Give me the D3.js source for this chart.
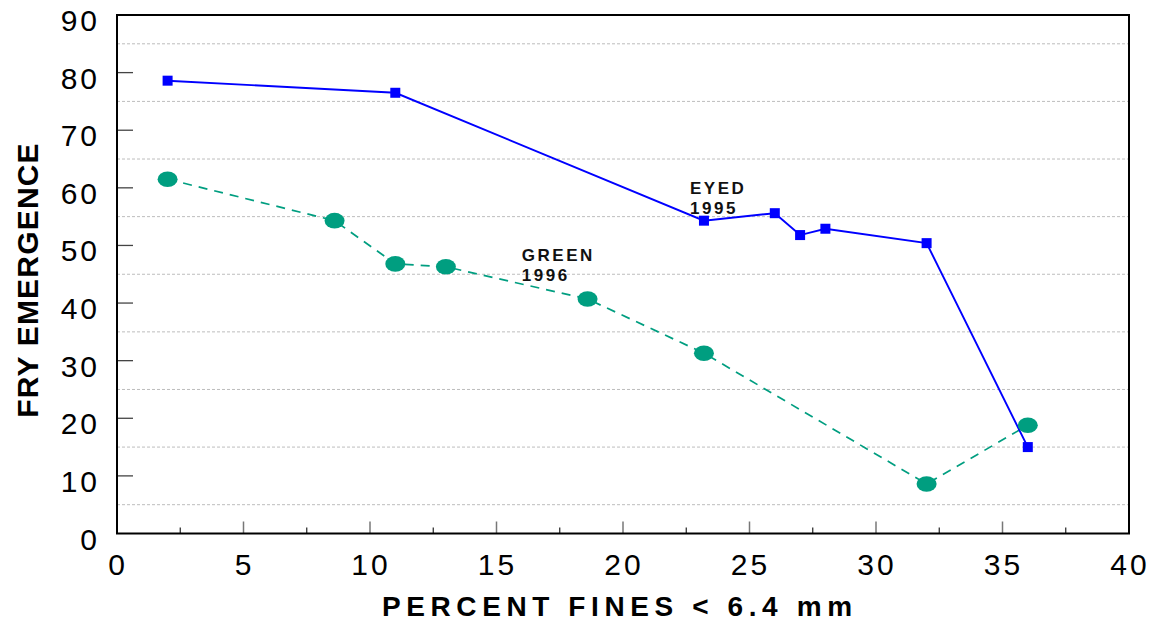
<!DOCTYPE html>
<html>
<head>
<meta charset="utf-8">
<script src="https://cdn.jsdelivr.net/npm/d3@7"></script>
<style>
  body { margin: 0; background: #fff; }
  svg { display: block; font-family: 'Liberation Sans', Arial, sans-serif; }
</style>
</head>
<body>
<svg id="chart" width="1154" height="624"></svg>
<script>
// eyed eggs, 1995
const eyedFines = [2, 11, 23.2, 26, 27, 28, 32, 36];
const eyedEmergence = [78.6, 76.5, 54.3, 55.6, 51.8, 52.9, 50.4, 15];
// green eggs, 1996
const greenFines = [2, 8.6, 11, 13, 18.6, 23.2, 32, 36];
const greenEmergence = [61.5, 54.3, 46.8, 46.3, 40.7, 31.3, 8.6, 18.8];

const xTicks = [0, 5, 10, 15, 20, 25, 30, 35, 40];
const yTicks = [0, 10, 20, 30, 40, 50, 60, 70, 80, 90];
const gridVals = [5, 15, 25, 35, 45, 55, 65, 75, 85];
const minorX = [2.5, 7.5, 12.5, 17.5, 22.5, 27.5, 32.5, 37.5];

const seriesLabels = [
  { lines: ['EYED', '1995'], x: 22.65, y: 59.0 },
  { lines: ['GREEN', '1996'], x: 16.0, y: 47.3 }
];

const plot = { left: 117, right: 1129, top: 15, bottom: 533.5 };
const svg = d3.select('#chart');

const x = d3.scaleLinear().domain([0, 40]).range([plot.left, plot.right]);
const y = d3.scaleLinear().domain([0, 90]).range([plot.bottom, plot.top]);

// dashed grid at the half decades
svg.append('g')
  .selectAll('line')
  .data(gridVals)
  .join('line')
  .attr('x1', plot.left).attr('x2', plot.right)
  .attr('y1', d => y(d)).attr('y2', d => y(d))
  .attr('stroke', '#bdbdbd')
  .attr('stroke-width', 1)
  .attr('stroke-dasharray', '3,2');

// y ticks point inward
svg.append('g')
  .selectAll('line')
  .data(yTicks.slice(1, -1))
  .join('line')
  .attr('x1', plot.left).attr('x2', plot.left + 16)
  .attr('y1', d => y(d)).attr('y2', d => y(d))
  .attr('stroke', '#444')
  .attr('stroke-width', 1.3);

svg.append('g')
  .selectAll('line')
  .data(xTicks.slice(1, -1))
  .join('line')
  .attr('x1', d => x(d)).attr('x2', d => x(d))
  .attr('y1', plot.bottom).attr('y2', plot.bottom - 12)
  .attr('stroke', '#777')
  .attr('stroke-width', 1.5);

svg.append('g')
  .selectAll('line')
  .data(minorX)
  .join('line')
  .attr('x1', d => x(d)).attr('x2', d => x(d))
  .attr('y1', plot.bottom).attr('y2', plot.bottom - 6)
  .attr('stroke', '#222')
  .attr('stroke-width', 1.2);

svg.append('rect')
  .attr('x', plot.left).attr('y', plot.top)
  .attr('width', plot.right - plot.left).attr('height', plot.bottom - plot.top)
  .attr('fill', 'none')
  .attr('stroke', '#000')
  .attr('stroke-width', 2);

// tick labels
svg.append('g')
  .selectAll('text')
  .data(yTicks)
  .join('text')
  .attr('x', 100)
  .attr('y', d => y(d) + 16)
  .attr('text-anchor', 'end')
  .attr('font-size', 30)
  .attr('letter-spacing', 3)
  .attr('fill', '#000')
  .text(d => d);

svg.append('g')
  .selectAll('text')
  .data(xTicks)
  .join('text')
  .attr('x', d => x(d) + 1)
  .attr('y', 575)
  .attr('text-anchor', 'middle')
  .attr('font-size', 30)
  .attr('letter-spacing', 3)
  .attr('fill', '#000')
  .text(d => d);

// axis titles
svg.append('text')
  .attr('transform', 'translate(38,280) rotate(-90)')
  .attr('text-anchor', 'middle')
  .attr('font-size', 30)
  .attr('font-weight', 'bold')
  .attr('letter-spacing', 1.2)
  .text('FRY EMERGENCE');

svg.append('text')
  .attr('x', 382)
  .attr('y', 616)
  .attr('font-size', 28)
  .attr('font-weight', 'bold')
  .attr('letter-spacing', 5.6)
  .text('PERCENT FINES < 6.4 mm');

const greenData = greenFines.map((f, i) => ({ f, v: greenEmergence[i] }));
const eyedData = eyedFines.map((f, i) => ({ f, v: eyedEmergence[i] }));
const line = d3.line().x(d => x(d.f)).y(d => y(d.v));

// green series: dashed line, oval markers
svg.append('path')
  .datum(greenData)
  .attr('d', line)
  .attr('fill', 'none')
  .attr('stroke', '#009e80')
  .attr('stroke-width', 1.7)
  .attr('stroke-dasharray', '9,7');

svg.append('path')
  .datum(eyedData)
  .attr('d', line)
  .attr('fill', 'none')
  .attr('stroke', '#0000ff')
  .attr('stroke-width', 1.9);

svg.append('g')
  .selectAll('ellipse')
  .data(greenData)
  .join('ellipse')
  .attr('cx', d => x(d.f))
  .attr('cy', d => y(d.v))
  .attr('rx', 10)
  .attr('ry', 7.8)
  .attr('fill', '#009e80');

svg.append('g')
  .selectAll('rect')
  .data(eyedData)
  .join('rect')
  .attr('x', d => x(d.f) - 5)
  .attr('y', d => y(d.v) - 5)
  .attr('width', 10)
  .attr('height', 10)
  .attr('fill', '#0000ff');

// series labels
seriesLabels.forEach(lab => {
  const t = svg.append('text')
    .attr('font-size', 17)
    .attr('font-weight', 'bold')
    .attr('letter-spacing', 2.5)
    .attr('fill', '#111');
  lab.lines.forEach((s, i) => {
    t.append('tspan')
      .attr('x', x(lab.x))
      .attr('y', y(lab.y) + i * 20)
      .text(s);
  });
});
</script>
</body>
</html>
